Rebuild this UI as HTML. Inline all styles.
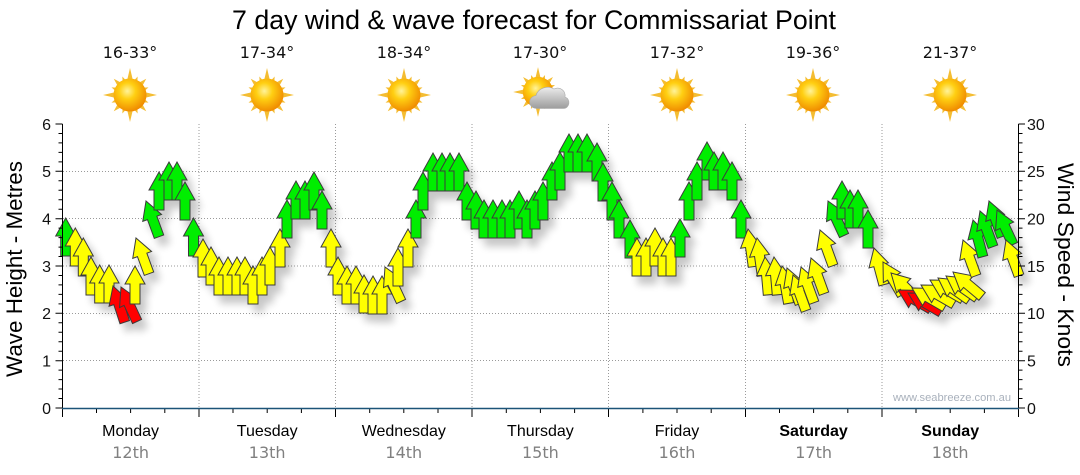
<!DOCTYPE html>
<html><head><meta charset="utf-8"><style>
html,body{margin:0;padding:0;background:#fff;}
svg{display:block;}
.g{fill:#00ee00}.y{fill:#ffff00}.r{fill:#ff0000}
</style></head><body>
<svg width="1080" height="475" viewBox="0 0 1080 475" xmlns="http://www.w3.org/2000/svg">
<defs>
<radialGradient id="sg" cx="0.42" cy="0.38" r="0.62">
<stop offset="0" stop-color="#fff39a"/><stop offset="0.4" stop-color="#ffcf12"/><stop offset="1" stop-color="#f08c00"/>
</radialGradient>
<linearGradient id="cg" x1="0" y1="0" x2="0" y2="1">
<stop offset="0" stop-color="#ececec"/><stop offset="1" stop-color="#9c9c9c"/>
</linearGradient>
<g id="sun">
<g fill="#f4bd33">
<polygon points="0,-27 3.3,-13 -3.3,-13"/>
<polygon points="0,-27 3.3,-13 -3.3,-13" transform="rotate(90)"/>
<polygon points="0,-27 3.3,-13 -3.3,-13" transform="rotate(180)"/>
<polygon points="0,-27 3.3,-13 -3.3,-13" transform="rotate(270)"/>
<polygon points="0,-23 3,-13 -3,-13" transform="rotate(45)"/>
<polygon points="0,-23 3,-13 -3,-13" transform="rotate(135)"/>
<polygon points="0,-23 3,-13 -3,-13" transform="rotate(225)"/>
<polygon points="0,-23 3,-13 -3,-13" transform="rotate(315)"/>
<polygon points="0,-20 2.5,-13 -2.5,-13" transform="rotate(22.5)"/>
<polygon points="0,-20 2.5,-13 -2.5,-13" transform="rotate(67.5)"/>
<polygon points="0,-20 2.5,-13 -2.5,-13" transform="rotate(112.5)"/>
<polygon points="0,-20 2.5,-13 -2.5,-13" transform="rotate(157.5)"/>
<polygon points="0,-20 2.5,-13 -2.5,-13" transform="rotate(202.5)"/>
<polygon points="0,-20 2.5,-13 -2.5,-13" transform="rotate(247.5)"/>
<polygon points="0,-20 2.5,-13 -2.5,-13" transform="rotate(292.5)"/>
<polygon points="0,-20 2.5,-13 -2.5,-13" transform="rotate(337.5)"/>
</g>
<circle r="16.5" fill="url(#sg)"/>
</g>
<path id="ar" d="M0,0 L10,18 L5,18 L5,38 L-5,38 L-5,18 L-10,18 Z"/>
<filter id="sh" x="0" y="0" width="1080" height="475" filterUnits="userSpaceOnUse">
<feGaussianBlur in="SourceAlpha" stdDeviation="4"/>
<feOffset dx="6" dy="8"/>
<feComponentTransfer><feFuncA type="linear" slope="0.22"/></feComponentTransfer>
<feMerge><feMergeNode/><feMergeNode in="SourceGraphic"/></feMerge>
</filter>
</defs>

<!-- Title -->
<text x="232" y="29" font-family="Liberation Sans, Arial, sans-serif" font-size="27" fill="#000" textLength="604" lengthAdjust="spacingAndGlyphs">7 day wind &amp; wave forecast for Commissariat Point</text>

<!-- Temps -->
<g font-family="DejaVu Sans, Verdana, sans-serif" font-size="16" fill="#111" text-anchor="middle">
<text x="130" y="58">16-33°</text>
<text x="267" y="58">17-34°</text>
<text x="404" y="58">18-34°</text>
<text x="540" y="58">17-30°</text>
<text x="677" y="58">17-32°</text>
<text x="813" y="58">19-36°</text>
<text x="950" y="58">21-37°</text>
</g>

<!-- Suns -->
<use href="#sun" transform="translate(130,95)"/>
<use href="#sun" transform="translate(267,95)"/>
<use href="#sun" transform="translate(404,95)"/>
<use href="#sun" transform="translate(538,92) scale(0.92)"/>
<use href="#sun" transform="translate(677,95)"/>
<use href="#sun" transform="translate(813,95)"/>
<use href="#sun" transform="translate(950,95)"/>
<!-- cloud -->
<g fill="url(#cg)" stroke="#aaa" stroke-width="0.6">
<path d="M537,108.5 C528,108.5 527,97 536,95.5 C538,88 548,85 554,89 C560,86 566,91 565,97 C571,99 570,108.5 563,108.5 Z"/>
</g>

<!-- Gridlines -->
<g stroke="#9a9a9a" stroke-width="1" stroke-dasharray="1,2" fill="none">
<path d="M63,171.5H1018M63,218.5H1018M63,266H1018M63,313.5H1018M63,360.5H1018"/>
<path d="M199,124V408M335.5,124V408M472,124V408M608.5,124V408M745.5,124V408M882,124V408"/>
</g>

<!-- Arrows -->
<g filter="url(#sh)" stroke="#3a3a3a" stroke-width="1" stroke-linejoin="miter">
<!-- Monday -->
<use href="#ar" class="g" transform="translate(65.7,218)"/>
<use href="#ar" class="y" transform="translate(75.3,228)"/>
<use href="#ar" class="y" transform="translate(83.3,238)"/>
<use href="#ar" class="y" transform="translate(91,257)"/>
<use href="#ar" class="y" transform="translate(99.7,265)"/>
<use href="#ar" class="y" transform="translate(109,265)"/>
<use href="#ar" class="r" transform="translate(113,286) rotate(-18)"/>
<use href="#ar" class="r" transform="translate(121,287) rotate(-25)"/>
<use href="#ar" class="y" transform="translate(135,266)"/>
<use href="#ar" class="y" transform="translate(136,238) rotate(-20)"/>
<use href="#ar" class="g" transform="translate(146,201) rotate(-20)"/>
<use href="#ar" class="g" transform="translate(159,172)"/>
<use href="#ar" class="g" transform="translate(169,162)"/>
<use href="#ar" class="g" transform="translate(177,162)"/>
<use href="#ar" class="g" transform="translate(185,182)"/>
<use href="#ar" class="g" transform="translate(193.5,218)"/>
<!-- Tuesday -->
<use href="#ar" class="y" transform="translate(203,239)"/>
<use href="#ar" class="y" transform="translate(211,247)"/>
<use href="#ar" class="y" transform="translate(219,257)"/>
<use href="#ar" class="y" transform="translate(228,257)"/>
<use href="#ar" class="y" transform="translate(237,257)"/>
<use href="#ar" class="y" transform="translate(245,257)"/>
<use href="#ar" class="y" transform="translate(253,266)"/>
<use href="#ar" class="y" transform="translate(262,257)"/>
<use href="#ar" class="y" transform="translate(270,247)"/>
<use href="#ar" class="y" transform="translate(280,229)"/>
<use href="#ar" class="g" transform="translate(287,200)"/>
<use href="#ar" class="g" transform="translate(296,181)"/>
<use href="#ar" class="g" transform="translate(305,181)"/>
<use href="#ar" class="g" transform="translate(314,172)"/>
<use href="#ar" class="g" transform="translate(322,191)"/>
<use href="#ar" class="y" transform="translate(331,229)"/>
<!-- Wednesday -->
<use href="#ar" class="y" transform="translate(338,257)"/>
<use href="#ar" class="y" transform="translate(347,266)"/>
<use href="#ar" class="y" transform="translate(356,266)"/>
<use href="#ar" class="y" transform="translate(364,275)"/>
<use href="#ar" class="y" transform="translate(373,276)"/>
<use href="#ar" class="y" transform="translate(382,276)"/>
<use href="#ar" class="y" transform="translate(385,267) rotate(-25)"/>
<use href="#ar" class="y" transform="translate(398,248)"/>
<use href="#ar" class="y" transform="translate(408,229)"/>
<use href="#ar" class="g" transform="translate(416,200)"/>
<use href="#ar" class="g" transform="translate(423,172)"/>
<use href="#ar" class="g" transform="translate(433,153)"/>
<use href="#ar" class="g" transform="translate(442,153)"/>
<use href="#ar" class="g" transform="translate(450,153)"/>
<use href="#ar" class="g" transform="translate(459,153)"/>
<use href="#ar" class="g" transform="translate(467,182)"/>
<!-- Thursday -->
<use href="#ar" class="g" transform="translate(476,191)"/>
<use href="#ar" class="g" transform="translate(484,200)"/>
<use href="#ar" class="g" transform="translate(493,200)"/>
<use href="#ar" class="g" transform="translate(502,200)"/>
<use href="#ar" class="g" transform="translate(510,200)"/>
<use href="#ar" class="g" transform="translate(519,191)"/>
<use href="#ar" class="g" transform="translate(527,200)"/>
<use href="#ar" class="g" transform="translate(535,191)"/>
<use href="#ar" class="g" transform="translate(543,182)"/>
<use href="#ar" class="g" transform="translate(552,162)"/>
<use href="#ar" class="g" transform="translate(560,152)"/>
<use href="#ar" class="g" transform="translate(569,134)"/>
<use href="#ar" class="g" transform="translate(578,134)"/>
<use href="#ar" class="g" transform="translate(587,134)"/>
<use href="#ar" class="g" transform="translate(597,143)"/>
<use href="#ar" class="g" transform="translate(603,163)"/>
<!-- Friday -->
<use href="#ar" class="g" transform="translate(612,182)"/>
<use href="#ar" class="g" transform="translate(619,200)"/>
<use href="#ar" class="g" transform="translate(630,220)"/>
<use href="#ar" class="y" transform="translate(637,238)"/>
<use href="#ar" class="y" transform="translate(646,238)"/>
<use href="#ar" class="y" transform="translate(655,228)"/>
<use href="#ar" class="y" transform="translate(663,238)"/>
<use href="#ar" class="y" transform="translate(671,238)"/>
<use href="#ar" class="g" transform="translate(680,219)"/>
<use href="#ar" class="g" transform="translate(689,182)"/>
<use href="#ar" class="g" transform="translate(697,162)"/>
<use href="#ar" class="g" transform="translate(707,142)"/>
<use href="#ar" class="g" transform="translate(714,152)"/>
<use href="#ar" class="g" transform="translate(723,152)"/>
<use href="#ar" class="g" transform="translate(732,162)"/>
<use href="#ar" class="g" transform="translate(741,200)"/>
<!-- Saturday -->
<use href="#ar" class="y" transform="translate(748,229) rotate(-8)"/>
<use href="#ar" class="y" transform="translate(757,238) rotate(-8)"/>
<use href="#ar" class="y" transform="translate(765,257) rotate(-5)"/>
<use href="#ar" class="y" transform="translate(774,257) rotate(-5)"/>
<use href="#ar" class="y" transform="translate(782,266) rotate(-10)"/>
<use href="#ar" class="y" transform="translate(787,268) rotate(-20)"/>
<use href="#ar" class="y" transform="translate(793,275) rotate(-20)"/>
<use href="#ar" class="y" transform="translate(801,267) rotate(-20)"/>
<use href="#ar" class="y" transform="translate(811,258) rotate(-20)"/>
<use href="#ar" class="y" transform="translate(820,230) rotate(-20)"/>
<use href="#ar" class="g" transform="translate(828,201) rotate(-25)"/>
<use href="#ar" class="g" transform="translate(842,181)"/>
<use href="#ar" class="g" transform="translate(850,190)"/>
<use href="#ar" class="g" transform="translate(858,190)"/>
<use href="#ar" class="g" transform="translate(868,210)"/>
<use href="#ar" class="y" transform="translate(874,248) rotate(-15)"/>
<!-- Sunday -->
<use href="#ar" class="y" transform="translate(883,262) rotate(-30)"/>
<use href="#ar" class="y" transform="translate(891,273) rotate(-45)"/>
<use href="#ar" class="r" transform="translate(898,290) rotate(-60)"/>
<use href="#ar" class="r" transform="translate(908,293) rotate(-60)"/>
<use href="#ar" class="y" transform="translate(912,288) rotate(-60)"/>
<use href="#ar" class="y" transform="translate(921,285) rotate(-60)"/>
<use href="#ar" class="y" transform="translate(930,280) rotate(-60)"/>
<use href="#ar" class="y" transform="translate(938,278) rotate(-55)"/>
<use href="#ar" class="y" transform="translate(946,276) rotate(-55)"/>
<use href="#ar" class="y" transform="translate(953,272) rotate(-50)"/>
<use href="#ar" class="y" transform="translate(963,240) rotate(-20)"/>
<use href="#ar" class="g" transform="translate(973,220) rotate(-15)"/>
<use href="#ar" class="g" transform="translate(980,211) rotate(-20)"/>
<use href="#ar" class="g" transform="translate(989,201) rotate(-20)"/>
<use href="#ar" class="g" transform="translate(997,210) rotate(-25)"/>
<use href="#ar" class="y" transform="translate(1006,240) rotate(-20)"/>
</g>

<!-- Axes -->
<g stroke="#000" stroke-width="1" fill="none">
<path d="M62.5,124V408M1018.5,124V408"/>
<!-- left ticks -->
<path d="M55.5,408H62.5M58.5,398.5H62.5M58.5,389H62.5M58.5,379.6H62.5M58.5,370.1H62.5M55.5,360.7H62.5M58.5,351.2H62.5M58.5,341.7H62.5M58.5,332.3H62.5M58.5,322.8H62.5M55.5,313.3H62.5M58.5,303.9H62.5M58.5,294.4H62.5M58.5,284.9H62.5M58.5,275.5H62.5M55.5,266H62.5M58.5,256.5H62.5M58.5,247.1H62.5M58.5,237.6H62.5M58.5,228.1H62.5M55.5,218.7H62.5M58.5,209.2H62.5M58.5,199.7H62.5M58.5,190.3H62.5M58.5,180.8H62.5M55.5,171.3H62.5M58.5,161.9H62.5M58.5,152.4H62.5M58.5,142.9H62.5M58.5,133.5H62.5M55.5,124H62.5"/>
<!-- right ticks -->
<path d="M1018.5,408H1025M1018.5,398.5H1022.5M1018.5,389H1022.5M1018.5,379.6H1022.5M1018.5,370.1H1022.5M1018.5,360.7H1025M1018.5,351.2H1022.5M1018.5,341.7H1022.5M1018.5,332.3H1022.5M1018.5,322.8H1022.5M1018.5,313.3H1025M1018.5,303.9H1022.5M1018.5,294.4H1022.5M1018.5,284.9H1022.5M1018.5,275.5H1022.5M1018.5,266H1025M1018.5,256.5H1022.5M1018.5,247.1H1022.5M1018.5,237.6H1022.5M1018.5,228.1H1022.5M1018.5,218.7H1025M1018.5,209.2H1022.5M1018.5,199.7H1022.5M1018.5,190.3H1022.5M1018.5,180.8H1022.5M1018.5,171.3H1025M1018.5,161.9H1022.5M1018.5,152.4H1022.5M1018.5,142.9H1022.5M1018.5,133.5H1022.5M1018.5,124H1025"/>
<!-- bottom ticks -->
<path d="M62.5,408V417M199,408V417M335.5,408V417M472,408V417M608.5,408V417M745.5,408V417M882,408V417M1018.5,408V417"/>
<path d="M96.5,408V413M130.6,408V413M164.8,408V413M233,408V413M267.2,408V413M301.4,408V413M369.7,408V413M403.8,408V413M438,408V413M506.3,408V413M540.4,408V413M574.6,408V413M642.9,408V413M677,408V413M711.2,408V413M779.5,408V413M813.6,408V413M847.8,408V413M916,408V413M950.2,408V413M984.4,408V413"/>
</g>
<path d="M62,408.5H1019" stroke="#1c5478" stroke-width="1.5"/>

<!-- Axis labels -->
<g font-family="Liberation Sans, Arial, sans-serif" font-size="16" fill="#111" text-anchor="end">
<text x="51" y="130">6</text>
<text x="51" y="177">5</text>
<text x="51" y="224.5">4</text>
<text x="51" y="272">3</text>
<text x="51" y="319">2</text>
<text x="51" y="366.5">1</text>
<text x="51" y="414">0</text>
</g>
<g font-family="Liberation Sans, Arial, sans-serif" font-size="16" fill="#111">
<text x="1027" y="130">30</text>
<text x="1027" y="177">25</text>
<text x="1027" y="224.5">20</text>
<text x="1027" y="272">15</text>
<text x="1027" y="319">10</text>
<text x="1027" y="366.5">5</text>
<text x="1027" y="414">0</text>
</g>

<text transform="translate(22,269) rotate(-90)" text-anchor="middle" font-family="Liberation Sans, Arial, sans-serif" font-size="22.5" fill="#000" textLength="216" lengthAdjust="spacingAndGlyphs">Wave Height - Metres</text>
<text transform="translate(1058,265) rotate(90)" text-anchor="middle" font-family="Liberation Sans, Arial, sans-serif" font-size="22.5" fill="#000" textLength="204" lengthAdjust="spacingAndGlyphs">Wind Speed - Knots</text>

<!-- Day labels -->
<g font-family="Liberation Sans, Arial, sans-serif" font-size="16" fill="#000" text-anchor="middle">
<text x="130.6" y="436">Monday</text>
<text x="267.2" y="436">Tuesday</text>
<text x="403.8" y="436">Wednesday</text>
<text x="540.4" y="436">Thursday</text>
<text x="677" y="436">Friday</text>
<text x="813.6" y="436" font-weight="bold">Saturday</text>
<text x="950.2" y="436" font-weight="bold">Sunday</text>
</g>
<g font-family="DejaVu Sans, Verdana, sans-serif" font-size="16" fill="#808080" text-anchor="middle">
<text x="130.6" y="458">12th</text>
<text x="267.2" y="458">13th</text>
<text x="403.8" y="458">14th</text>
<text x="540.4" y="458">15th</text>
<text x="677" y="458">16th</text>
<text x="813.6" y="458">17th</text>
<text x="950.2" y="458">18th</text>
</g>

<text x="893" y="401" font-family="Liberation Sans, Arial, sans-serif" font-size="11" fill="#a9b1bc" textLength="118" lengthAdjust="spacingAndGlyphs">www.seabreeze.com.au</text>
</svg>
</body></html>
